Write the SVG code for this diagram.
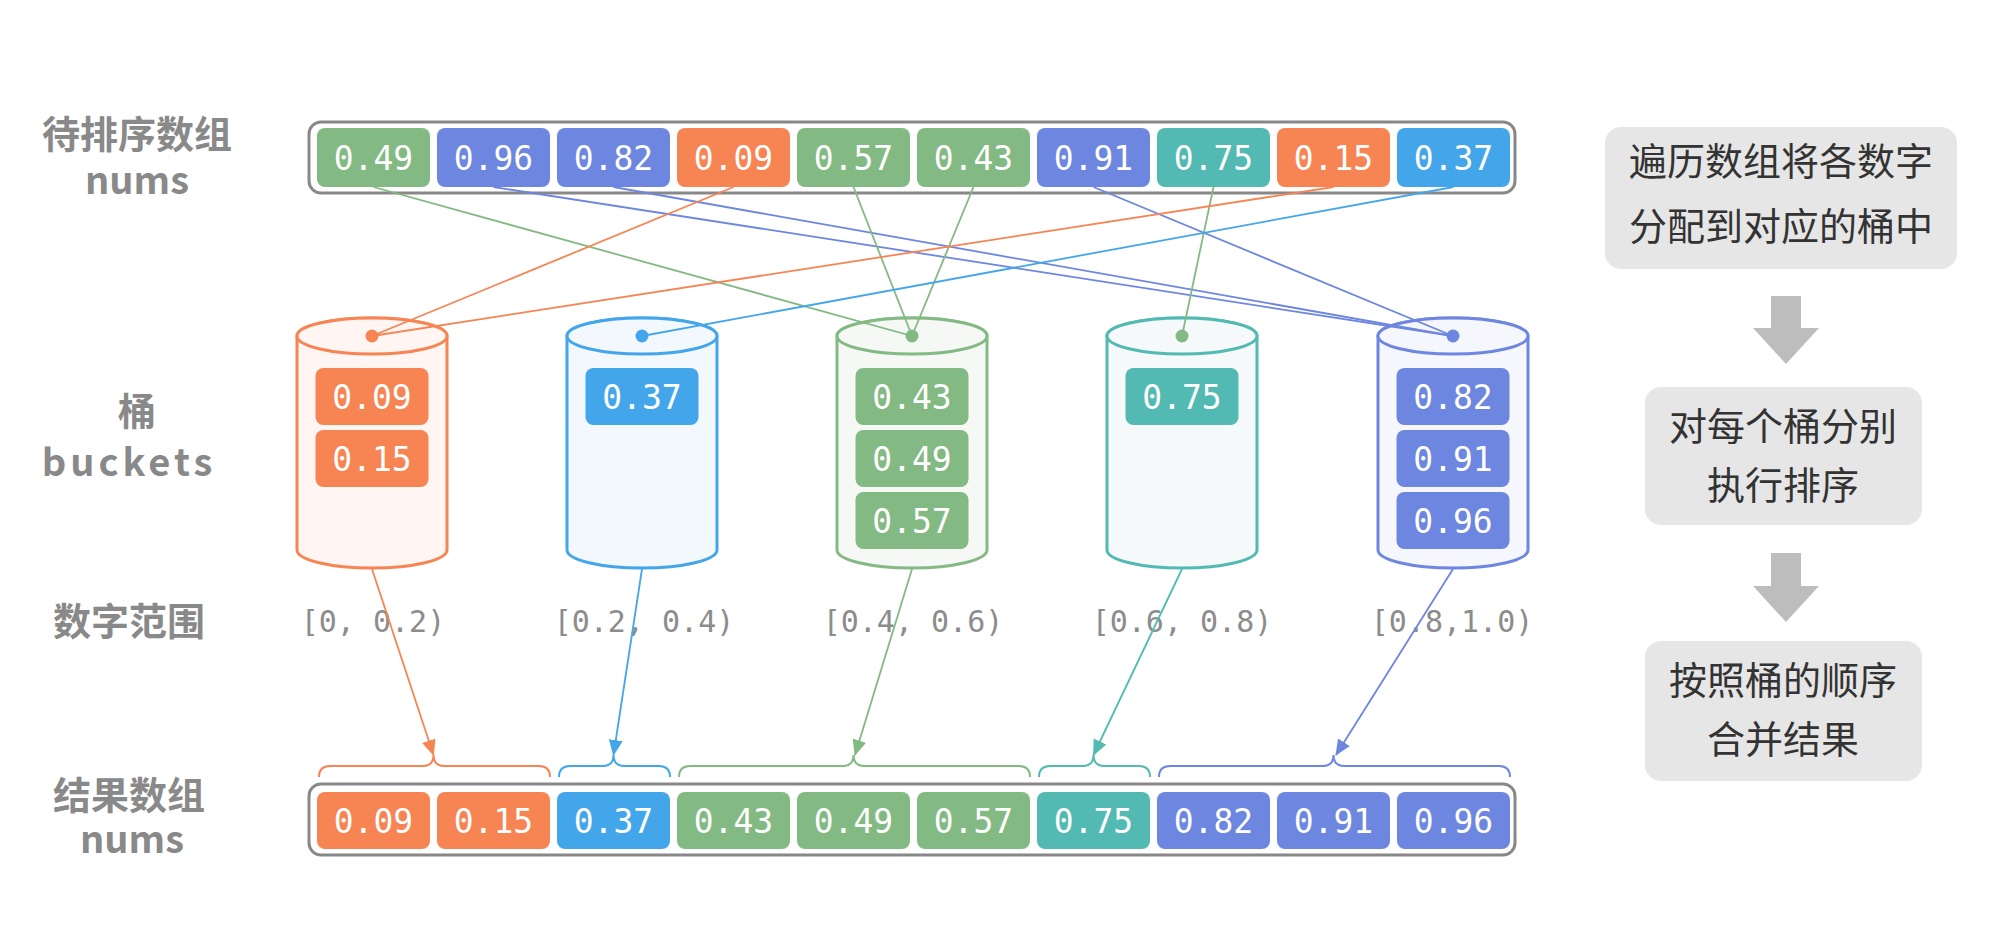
<svg xmlns="http://www.w3.org/2000/svg" width="1989" height="929" viewBox="0 0 1989 929">
<style>
.lbl{font-family:"Noto Sans CJK SC","Noto Sans",sans-serif;font-weight:700;font-size:38px;fill:#898989;text-anchor:middle}
.num{font-family:"DejaVu Sans Mono","Liberation Mono",monospace;font-size:33px;fill:#ffffff;text-anchor:middle}
.rng{font-family:"DejaVu Sans Mono","Liberation Mono",monospace;font-size:30px;fill:#8c8c8c;text-anchor:middle}
.step{font-family:"Noto Sans CJK SC","Noto Sans",sans-serif;font-size:38px;fill:#333333;text-anchor:middle}
.arr{fill:none;stroke:#888888;stroke-width:3}
.o{fill:#F78453}.b{fill:#44A6EA}.g{fill:#83B983}.t{fill:#52BAB2}.p{fill:#6D86E0}
.so{stroke:#F78453}.sb{stroke:#44A6EA}.sg{stroke:#83B983}.st{stroke:#52BAB2}.sp{stroke:#6D86E0}
.ln{fill:none;stroke-width:1.8}
.br{fill:none;stroke-width:2}
.cyl{stroke-width:3}
.box{fill:#e6e6e6}
.down{fill:#bdbdbd}
</style>
<defs>
<marker id="mo" markerUnits="userSpaceOnUse" markerWidth="16" markerHeight="16" viewBox="0 0 16 16" refX="15" refY="8" orient="auto"><path d="M0,1 L16,8 L0,15 Z" fill="#F78453"/></marker>
<marker id="mb" markerUnits="userSpaceOnUse" markerWidth="16" markerHeight="16" viewBox="0 0 16 16" refX="15" refY="8" orient="auto"><path d="M0,1 L16,8 L0,15 Z" fill="#44A6EA"/></marker>
<marker id="mg" markerUnits="userSpaceOnUse" markerWidth="16" markerHeight="16" viewBox="0 0 16 16" refX="15" refY="8" orient="auto"><path d="M0,1 L16,8 L0,15 Z" fill="#83B983"/></marker>
<marker id="mt" markerUnits="userSpaceOnUse" markerWidth="16" markerHeight="16" viewBox="0 0 16 16" refX="15" refY="8" orient="auto"><path d="M0,1 L16,8 L0,15 Z" fill="#52BAB2"/></marker>
<marker id="mp" markerUnits="userSpaceOnUse" markerWidth="16" markerHeight="16" viewBox="0 0 16 16" refX="15" refY="8" orient="auto"><path d="M0,1 L16,8 L0,15 Z" fill="#6D86E0"/></marker>
</defs>
<rect width="1989" height="929" fill="#ffffff"/>

<!-- left labels -->
<g id="labels">
<text class="lbl" x="137" y="148">待排序数组</text>
<text class="lbl" x="137" y="194">nums</text>
<text class="lbl" x="137" y="425">桶</text>
<text class="lbl" x="129" y="476" style="letter-spacing:4px">buckets</text>
<text class="lbl" x="129" y="635">数字范围</text>
<text class="lbl" x="129" y="809">结果数组</text>
<text class="lbl" x="132" y="853">nums</text>
</g>

<!-- input array -->
<g id="input-array">
<rect x="309" y="122" width="1206" height="71" rx="12" fill="#ffffff" class="arr"/>
<rect class="g" x="317" y="128" width="113" height="59" rx="8"/><text class="num" x="373.5" y="170">0.49</text>
<rect class="p" x="437" y="128" width="113" height="59" rx="8"/><text class="num" x="493.5" y="170">0.96</text>
<rect class="p" x="557" y="128" width="113" height="59" rx="8"/><text class="num" x="613.5" y="170">0.82</text>
<rect class="o" x="677" y="128" width="113" height="59" rx="8"/><text class="num" x="733.5" y="170">0.09</text>
<rect class="g" x="797" y="128" width="113" height="59" rx="8"/><text class="num" x="853.5" y="170">0.57</text>
<rect class="g" x="917" y="128" width="113" height="59" rx="8"/><text class="num" x="973.5" y="170">0.43</text>
<rect class="p" x="1037" y="128" width="113" height="59" rx="8"/><text class="num" x="1093.5" y="170">0.91</text>
<rect class="t" x="1157" y="128" width="113" height="59" rx="8"/><text class="num" x="1213.5" y="170">0.75</text>
<rect class="o" x="1277" y="128" width="113" height="59" rx="8"/><text class="num" x="1333.5" y="170">0.15</text>
<rect class="b" x="1397" y="128" width="113" height="59" rx="8"/><text class="num" x="1453.5" y="170">0.37</text>
</g>

<!-- buckets -->
<g id="bucket-0">
<path class="cyl so" fill="#fff6f3" d="M297,336 L297,550 A75,18 0 0 0 447,550 L447,336 A75,18 0 0 0 297,336 Z"/>
<ellipse class="cyl so" fill="#fff6f3" cx="372" cy="336" rx="75" ry="18"/>
<rect class="o" x="315.5" y="368" width="113" height="57" rx="8"/><text class="num" x="372" y="409">0.09</text>
<rect class="o" x="315.5" y="430" width="113" height="57" rx="8"/><text class="num" x="372" y="471">0.15</text>
</g>
<g id="bucket-1">
<path class="cyl sb" fill="#f3f8fd" d="M567,336 L567,550 A75,18 0 0 0 717,550 L717,336 A75,18 0 0 0 567,336 Z"/>
<ellipse class="cyl sb" fill="#f3f8fd" cx="642" cy="336" rx="75" ry="18"/>
<rect class="b" x="585.5" y="368" width="113" height="57" rx="8"/><text class="num" x="642" y="409">0.37</text>
</g>
<g id="bucket-2">
<path class="cyl sg" fill="#f6f8f6" d="M837,336 L837,550 A75,18 0 0 0 987,550 L987,336 A75,18 0 0 0 837,336 Z"/>
<ellipse class="cyl sg" fill="#f6f8f6" cx="912" cy="336" rx="75" ry="18"/>
<rect class="g" x="855.5" y="368" width="113" height="57" rx="8"/><text class="num" x="912" y="409">0.43</text>
<rect class="g" x="855.5" y="430" width="113" height="57" rx="8"/><text class="num" x="912" y="471">0.49</text>
<rect class="g" x="855.5" y="492" width="113" height="57" rx="8"/><text class="num" x="912" y="533">0.57</text>
</g>
<g id="bucket-3">
<path class="cyl st" fill="#f5f9f9" d="M1107,336 L1107,550 A75,18 0 0 0 1257,550 L1257,336 A75,18 0 0 0 1107,336 Z"/>
<ellipse class="cyl st" fill="#f5f9f9" cx="1182" cy="336" rx="75" ry="18"/>
<rect class="t" x="1125.5" y="368" width="113" height="57" rx="8"/><text class="num" x="1182" y="409">0.75</text>
</g>
<g id="bucket-4">
<path class="cyl sp" fill="#f6f7fd" d="M1378,336 L1378,550 A75,18 0 0 0 1528,550 L1528,336 A75,18 0 0 0 1378,336 Z"/>
<ellipse class="cyl sp" fill="#f6f7fd" cx="1453" cy="336" rx="75" ry="18"/>
<rect class="p" x="1396.5" y="368" width="113" height="57" rx="8"/><text class="num" x="1453" y="409">0.82</text>
<rect class="p" x="1396.5" y="430" width="113" height="57" rx="8"/><text class="num" x="1453" y="471">0.91</text>
<rect class="p" x="1396.5" y="492" width="113" height="57" rx="8"/><text class="num" x="1453" y="533">0.96</text>
</g>

<!-- ranges -->
<g id="ranges">
<text class="rng" x="373" y="632">[0, 0.2)</text>
<text class="rng" x="644" y="632">[0.2, 0.4)</text>
<text class="rng" x="913" y="632">[0.4, 0.6)</text>
<text class="rng" x="1182" y="632">[0.6, 0.8)</text>
<text class="rng" x="1452" y="632">[0.8,1.0)</text>
</g>

<!-- result array -->
<g id="result-array">
<rect x="309" y="784" width="1206" height="71" rx="12" fill="#ffffff" class="arr"/>
<rect class="o" x="317" y="792" width="113" height="57" rx="8"/><text class="num" x="373.5" y="833">0.09</text>
<rect class="o" x="437" y="792" width="113" height="57" rx="8"/><text class="num" x="493.5" y="833">0.15</text>
<rect class="b" x="557" y="792" width="113" height="57" rx="8"/><text class="num" x="613.5" y="833">0.37</text>
<rect class="g" x="677" y="792" width="113" height="57" rx="8"/><text class="num" x="733.5" y="833">0.43</text>
<rect class="g" x="797" y="792" width="113" height="57" rx="8"/><text class="num" x="853.5" y="833">0.49</text>
<rect class="g" x="917" y="792" width="113" height="57" rx="8"/><text class="num" x="973.5" y="833">0.57</text>
<rect class="t" x="1037" y="792" width="113" height="57" rx="8"/><text class="num" x="1093.5" y="833">0.75</text>
<rect class="p" x="1157" y="792" width="113" height="57" rx="8"/><text class="num" x="1213.5" y="833">0.82</text>
<rect class="p" x="1277" y="792" width="113" height="57" rx="8"/><text class="num" x="1333.5" y="833">0.91</text>
<rect class="p" x="1397" y="792" width="113" height="57" rx="8"/><text class="num" x="1453.5" y="833">0.96</text>
</g>

<!-- braces -->
<g id="braces">
<path class="br so" d="M319,777 Q319,766 330,766 L422.5,766 Q433.5,766 433.5,755 Q433.5,766 444.5,766 L539,766 Q550,766 550,777"/>
<path class="br sb" d="M559,777 Q559,766 570,766 L602.5,766 Q613.5,766 613.5,755 Q613.5,766 624.5,766 L659,766 Q670,766 670,777"/>
<path class="br sg" d="M679,777 Q679,766 690,766 L842.5,766 Q853.5,766 853.5,755 Q853.5,766 864.5,766 L1019,766 Q1030,766 1030,777"/>
<path class="br st" d="M1039,777 Q1039,766 1050,766 L1082.5,766 Q1093.5,766 1093.5,755 Q1093.5,766 1104.5,766 L1139,766 Q1150,766 1150,777"/>
<path class="br sp" d="M1159,777 Q1159,766 1170,766 L1322.5,766 Q1333.5,766 1333.5,755 Q1333.5,766 1344.5,766 L1499,766 Q1510,766 1510,777"/>
</g>

<!-- connectors -->
<g id="connectors">
<line class="ln sg" x1="373.5" y1="187" x2="912" y2="336"/>
<line class="ln sp" x1="493.5" y1="187" x2="1453" y2="336"/>
<line class="ln sp" x1="613.5" y1="187" x2="1453" y2="336"/>
<line class="ln so" x1="733.5" y1="187" x2="372" y2="336"/>
<line class="ln sg" x1="853.5" y1="187" x2="912" y2="336"/>
<line class="ln sg" x1="973.5" y1="187" x2="912" y2="336"/>
<line class="ln sp" x1="1093.5" y1="187" x2="1453" y2="336"/>
<line class="ln sg" x1="1213.5" y1="187" x2="1182" y2="336"/>
<line class="ln so" x1="1333.5" y1="187" x2="372" y2="336"/>
<line class="ln sb" x1="1453.5" y1="187" x2="642" y2="336"/>
<circle class="o" cx="372" cy="336" r="6.5"/>
<circle class="b" cx="642" cy="336" r="6.5"/>
<circle class="g" cx="912" cy="336" r="6.5"/>
<circle class="g" cx="1182" cy="336" r="6.5"/>
<circle class="p" cx="1453" cy="336" r="6.5"/>
<line class="ln so" x1="372" y1="569" x2="433.5" y2="755" marker-end="url(#mo)"/>
<line class="ln sb" x1="642" y1="569" x2="613.5" y2="755" marker-end="url(#mb)"/>
<line class="ln sg" x1="912" y1="569" x2="855" y2="755" marker-end="url(#mg)"/>
<line class="ln st" x1="1182" y1="569" x2="1093.5" y2="755" marker-end="url(#mt)"/>
<line class="ln sp" x1="1453" y1="569" x2="1336" y2="755" marker-end="url(#mp)"/>
</g>

<!-- steps -->
<g id="step-1">
<rect class="box" x="1605" y="127" width="352" height="142" rx="16"/>
<text class="step" x="1781" y="175">遍历数组将各数字</text>
<text class="step" x="1781" y="240">分配到对应的桶中</text>
</g>
<g id="step-arrow-1"><path class="down" d="M1771,296 L1801,296 L1801,328 L1819,328 L1786,364 L1753,328 L1771,328 Z"/></g>
<g id="step-2">
<rect class="box" x="1645" y="387" width="277" height="138" rx="16"/>
<text class="step" x="1783" y="440">对每个桶分别</text>
<text class="step" x="1783" y="499">执行排序</text>
</g>
<g id="step-arrow-2"><path class="down" d="M1771,553 L1801,553 L1801,586 L1819,586 L1786,622 L1753,586 L1771,586 Z"/></g>
<g id="step-3">
<rect class="box" x="1645" y="641" width="277" height="140" rx="16"/>
<text class="step" x="1783" y="694">按照桶的顺序</text>
<text class="step" x="1783" y="753">合并结果</text>
</g>
</svg>
